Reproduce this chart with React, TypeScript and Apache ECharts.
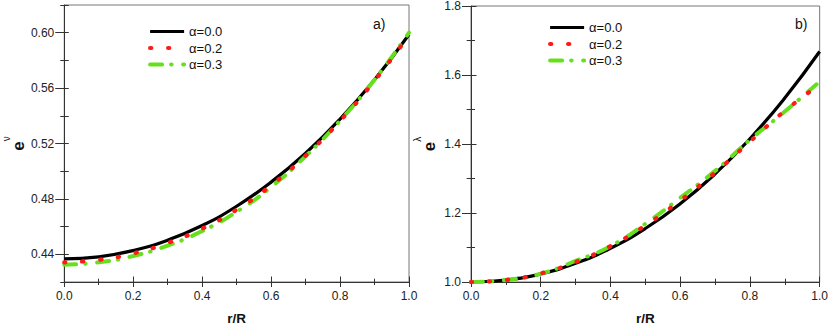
import React, { useEffect, useRef } from "react";
import * as echarts from "echarts";

// r/R positions
const rR = [0, 0.1, 0.2, 0.3, 0.4, 0.5, 0.6, 0.7, 0.8, 0.9, 1.0];

// panel a) e^nu
const nuAlpha00 = [0.4367, 0.4382, 0.4427, 0.4502, 0.4608, 0.4747, 0.4921, 0.513, 0.5376, 0.5661, 0.5987];
const nuAlpha02 = [0.4342, 0.436, 0.4407, 0.4482, 0.4585, 0.4722, 0.4898, 0.5112, 0.5363, 0.5653, 0.5983];
const nuAlpha03 = [0.4325, 0.4342, 0.4388, 0.4463, 0.4568, 0.4707, 0.4885, 0.5108, 0.5365, 0.566, 0.6];

// panel b) e^lambda
const lamAlpha00 = [1.0, 1.0058, 1.0236, 1.0541, 1.0977, 1.155, 1.2267, 1.3132, 1.4152, 1.5333, 1.668];
const lamAlpha02 = [1.0, 1.006, 1.025, 1.058, 1.104, 1.164, 1.236, 1.317, 1.407, 1.496, 1.572];
const lamAlpha03 = [1.0, 1.006, 1.024, 1.061, 1.104, 1.169, 1.244, 1.322, 1.412, 1.494, 1.581];

// tick values of panel a) y axis
const nuMajorTicks = [0.44, 0.48, 0.52, 0.56, 0.6];
const nuMinorTicks = [0.42, 0.46, 0.5, 0.54, 0.58, 0.62];

const seriesNames = ["\u03b1=0.0", "\u03b1=0.2", "\u03b1=0.3"];
const panelLabels = ["a)", "b)"];

const FONT = 'Arial, "Liberation Sans", sans-serif';
const AXIS_COLOR = "#333";
const BLACK = "#000000";
const RED = "#ff1a1a";
const GREEN = "#66e01c";

function pairs(xs: number[], ys: number[]) {
  return xs.map((x, i) => [x, ys[i]]);
}

export default function App() {
  const ref = useRef<HTMLDivElement>(null);

  useEffect(() => {
    if (!ref.current) return;
    const chart = echarts.init(ref.current, null, { renderer: "svg" });

    const grids = [
      { left: 57.3, top: 5, width: 351.7, height: 284 },
      { left: 471, top: 5, width: 352.3, height: 284 },
    ];

    const labelStyle = { fontSize: 12, fontFamily: FONT, color: "#222" };
    const tickLine = { color: AXIS_COLOR, width: 1 };

    const xMain = (gridIndex: number) => ({
      type: "value",
      gridIndex,
      min: 0,
      max: 1,
      interval: 0.2,
      position: "bottom",
      axisLine: { show: true, lineStyle: { color: AXIS_COLOR, width: 1 } },
      axisTick: { show: true, inside: false, length: 5, lineStyle: tickLine },
      minorTick: { show: true, splitNumber: 2, length: 3, lineStyle: tickLine },
      splitLine: { show: false },
      axisLabel: { show: true, margin: 8, ...labelStyle, formatter: (v: number) => v.toFixed(1) },
      name: "r/R",
      nameLocation: "middle",
      nameGap: 29,
      nameTextStyle: { fontSize: 13.5, fontWeight: "bold", fontFamily: FONT, color: "#111" },
    });
    const xInner = (gridIndex: number) => ({
      type: "value",
      gridIndex,
      min: 0,
      max: 1,
      interval: 0.2,
      position: "bottom",
      axisLine: { show: false },
      axisTick: { show: true, inside: true, length: 5.5, lineStyle: tickLine },
      minorTick: { show: true, splitNumber: 2, length: 3.3, lineStyle: tickLine },
      splitLine: { show: false },
      axisLabel: { show: false },
    });

    const richName = (sup: string) => ({
      name: `{e|e}{s|${sup}}`,
      nameTextStyle: {
        rich: {
          e: { fontSize: 17, fontWeight: "bold", fontFamily: FONT, color: "#111", lineHeight: 26, verticalAlign: "bottom" },
          s: { fontSize: 10, fontFamily: FONT, color: "#111", lineHeight: 12, verticalAlign: "top" },
        },
      },
    });

    const yAxes: any[] = [
      // panel a) main: major ticks outside + labels
      {
        type: "value",
        gridIndex: 0,
        min: 0.42,
        max: 0.62,
        interval: 0.02,
        position: "left",
        axisLine: { show: true, lineStyle: { color: AXIS_COLOR, width: 1 } },
        axisTick: { show: true, inside: false, length: 9, lineStyle: tickLine, customValues: nuMajorTicks },
        splitLine: { show: false },
        axisLabel: { margin: 10, ...labelStyle, customValues: nuMajorTicks, formatter: (v: number) => v.toFixed(2) },
        nameLocation: "middle",
        nameGap: 36,
        ...richName("\u03bd"),
      },
      // panel a) inside ticks
      {
        type: "value",
        gridIndex: 0,
        min: 0.42,
        max: 0.62,
        interval: 0.02,
        position: "left",
        axisLine: { show: false },
        axisTick: { show: true, inside: true, length: 4.5, lineStyle: tickLine },
        splitLine: { show: false },
        axisLabel: { show: false },
      },
      // panel b) main
      {
        type: "value",
        gridIndex: 1,
        min: 1.0,
        max: 1.8,
        interval: 0.2,
        position: "left",
        axisLine: { show: true, lineStyle: { color: AXIS_COLOR, width: 1 } },
        axisTick: { show: true, inside: false, length: 9, lineStyle: tickLine },
        minorTick: { show: true, splitNumber: 2, length: 4.3, lineStyle: tickLine },
        splitLine: { show: false },
        axisLabel: { margin: 10, ...labelStyle, formatter: (v: number) => v.toFixed(1) },
        nameLocation: "middle",
        nameGap: 33,
        ...richName("\u03bb"),
      },
      // panel b) inside ticks
      {
        type: "value",
        gridIndex: 1,
        min: 1.0,
        max: 1.8,
        interval: 0.2,
        position: "left",
        axisLine: { show: false },
        axisTick: { show: true, inside: true, length: 5.5, lineStyle: tickLine },
        minorTick: { show: true, splitNumber: 2, length: 4, lineStyle: tickLine },
        splitLine: { show: false },
        axisLabel: { show: false },
      },
      // panel a) minor ticks outside
      {
        type: "value",
        gridIndex: 0,
        min: 0.42,
        max: 0.62,
        interval: 0.02,
        position: "left",
        axisLine: { show: false },
        axisTick: { show: true, inside: false, length: 4, lineStyle: tickLine, customValues: nuMinorTicks },
        splitLine: { show: false },
        axisLabel: { show: false },
      },
    ];

    const styles = [
      { color: BLACK, width: 3.2, type: "solid" as any, cap: "butt", z: 2 },
      { color: RED, width: 4.2, type: [1.2, 16.8] as any, cap: "round", z: 4 },
      { color: GREEN, width: 4, type: [12, 9, 0.5, 11.5] as any, cap: "round", z: 3 },
    ];

    const panelData = [
      [nuAlpha00, nuAlpha02, nuAlpha03],
      [lamAlpha00, lamAlpha02, lamAlpha03],
    ];

    const series: any[] = [];
    panelData.forEach((sets, p) => {
      sets.forEach((ys, k) => {
        const st = styles[k];
        series.push({
          type: "line",
          name: seriesNames[k],
          xAxisIndex: p * 2,
          yAxisIndex: p * 2,
          data: pairs(rR, ys),
          smooth: true,
          symbol: "none",
          showSymbol: false,
          z: st.z,
          lineStyle: { color: st.color, width: st.width, type: st.type, cap: st.cap },
          itemStyle: { color: st.color },
        });
      });
    });

    const legendCommon = {
      orient: "vertical",
      itemWidth: 34,
      itemHeight: 14,
      itemGap: 3.5,
      padding: 0,
      selectedMode: false,
      itemStyle: { opacity: 0, color: "rgba(0,0,0,0)", borderWidth: 0 },
      lineStyle: { width: "inherit", type: "inherit", cap: "inherit" },
      textStyle: { fontSize: 13, fontFamily: FONT, color: "#111" },
      data: seriesNames,
    };

    chart.setOption({
      animation: false,
      backgroundColor: "#ffffff",
      grid: grids.map((g) => ({ ...g, show: true, borderColor: "#777", borderWidth: 1, backgroundColor: "transparent" })),
      xAxis: [xMain(0), xInner(0), xMain(1), xInner(1)],
      yAxis: yAxes,
      legend: [
        { ...legendCommon, left: 148, top: 25 },
        { ...legendCommon, left: 548, top: 21 },
      ],
      graphic: [
        { type: "text", left: 373, top: 17, style: { text: panelLabels[0], fontSize: 14, fontFamily: FONT, fill: "#111" } },
        { type: "text", left: 795, top: 17, style: { text: panelLabels[1], fontSize: 14, fontFamily: FONT, fill: "#111" } },
      ],
      series,
    });

    return () => chart.dispose();
  }, []);

  return (
    <div
      ref={ref}
      style={{ position: "fixed", left: 0, top: 0, width: 831, height: 330, background: "#fff" }}
    />
  );
}
